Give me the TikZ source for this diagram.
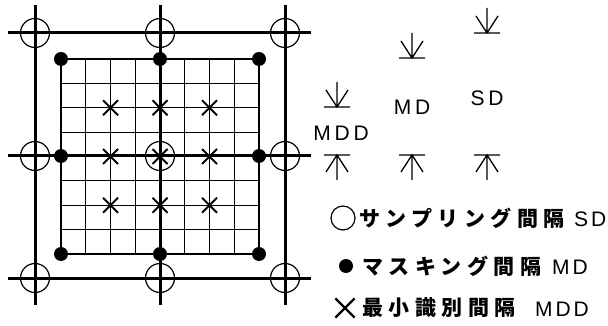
\documentclass[tikz,border=0pt]{standalone}
\usepackage{fontspec}
\usetikzlibrary{shapes.misc}
\newfontfamily\jp[LetterSpace=26]{Noto Sans CJK JP}
\newfontfamily\lat[LetterSpace=18]{Liberation Sans}
\newfontfamily\latl[LetterSpace=14]{Liberation Sans}
\tikzset{
  thickline/.style={line width=3pt},
  gridline/.style={line width=1.2pt},
  frameline/.style={line width=2pt},
  samp/.style={circle, draw, line width=1.2pt, minimum size=29pt, inner sep=0pt},
  mask/.style={circle, fill, minimum size=14pt, inner sep=0pt},
  mdd/.style={cross out, draw, line width=2pt, minimum size=13pt, inner sep=0pt},
  dimline/.style={line width=1.3pt},
  lbl/.style={inner sep=0pt, font=\lat\fontsize{21}{21}\selectfont},
  jtxt/.style={inner sep=0pt, anchor=west, font=\jp\bfseries\fontsize{21}{21}\selectfont},
  ltxt/.style={inner sep=0pt, anchor=west, font=\latl\fontsize{21}{21}\selectfont},
  pics/dimdown/.style={code={\draw[dimline] (0,-25) -- (0,0) (-11,-17) -- (0,0) -- (11,-17) (-13,0) -- (13,0);}},
  pics/dimup/.style={code={\draw[dimline] (0,25) -- (0,0) (-11,17) -- (0,0) -- (11,17) (-13,0) -- (13,0);}}
}
\begin{document}
\begin{tikzpicture}[x=1pt,y=-1pt]
\useasboundingbox (0,0) rectangle (608,326);
% inner grid
\foreach \i in {0,...,8} {
  \draw[gridline] ({61+24.75*\i},59) -- ({61+24.75*\i},254);
  \draw[gridline] (61,{59+24.375*\i}) -- (259,{59+24.375*\i});
}
\draw[frameline] (61,59) rectangle (259,254);
% thick sampling lines
\foreach \x in {35,160,285} \draw[thickline] (\x,5) -- (\x,305);
\foreach \y in {33,156,278} \draw[thickline] (8,\y) -- (311,\y);
% sampling circles
\foreach \x/\a in {35/a,160/b,285/c} \foreach \y/\b in {33/1,156/2,278/3}
  \node[samp] (s\a\b) at (\x,\y) {};
% masking dots
\foreach \p/\n in {{(61,59)}/1,{(160,59)}/2,{(259,59)}/3,{(61,156)}/4,{(259,156)}/5,{(61,254)}/6,{(160,254)}/7,{(259,254)}/8}
  \node[mask] (m\n) at \p {};
% MDD crosses
\foreach \x/\a in {110.5/a,160/b,209.5/c} \foreach \y/\b in {107.75/1,156.5/2,205.25/3}
  \node[mdd] (x\a\b) at (\x,\y) {};
% dimension marks
\pic at (337,107) {dimdown};
\pic at (412,58) {dimdown};
\pic at (487,33) {dimdown};
\pic at (337,155) {dimup};
\pic at (412,155) {dimup};
\pic at (487,155) {dimup};
\node[lbl] (lmdd) at (341,133) {MDD};
\node[lbl] (lmd) at (412,107) {MD};
\node[lbl] (lsd) at (487,98) {SD};
% legend
\node[circle, draw, line width=1.2pt, minimum size=24pt, inner sep=0pt] (k1) at (343,218) {};
\node[jtxt] (t1) at (359,218) {サンプリング間隔};
\node[ltxt] (u1) at (574,219) {SD};
\node[mask, minimum size=14pt] (k2) at (346,266) {};
\node[jtxt] (t2) at (362,266) {マスキング間隔};
\node[ltxt] (u2) at (552,267) {MD};
\node[mdd, minimum size=17pt, line width=2.2pt] (k3) at (345,308) {};
\node[jtxt] (t3) at (362,308) {最小識別間隔};
\node[ltxt] (u3) at (535,309) {MDD};
\end{tikzpicture}
\end{document}
